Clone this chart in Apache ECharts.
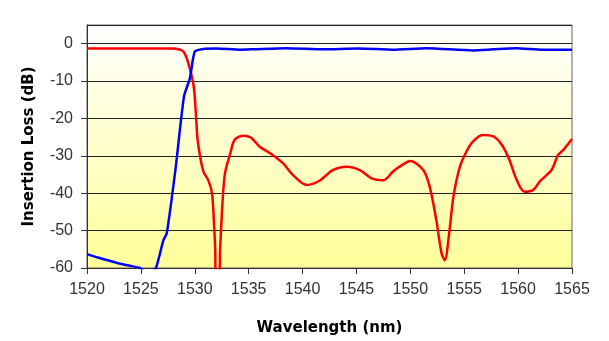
<!DOCTYPE html>
<html>
<head>
<meta charset="utf-8">
<script src="https://cdn.jsdelivr.net/npm/echarts@6/dist/echarts.min.js"></script>
<style>html,body{margin:0;padding:0;background:#fff}#c{width:609px;height:341px}</style>
</head>
<body>
<div id="c"></div>
<script>
var xTicks = [1520, 1525, 1530, 1535, 1540, 1545, 1550, 1555, 1560, 1565];
var yTicks = [-60, -50, -40, -30, -20, -10, 0];

var redWavelength = [1520, 1524, 1528, 1528.5, 1528.95, 1529.4, 1529.9, 1530.1, 1530.25, 1530.5, 1530.8, 1531.25, 1531.6, 1531.8, 1531.9, 1531.95, 1532.25, 1532.35, 1532.55, 1532.8, 1533.3, 1533.7, 1534.5, 1535.2, 1536.0, 1537.0, 1538.2, 1539.1, 1540.4, 1541.6, 1542.8, 1544.1, 1545.3, 1546.4, 1547.5, 1548.4, 1549.0, 1550.0, 1551.2, 1551.8, 1552.4, 1552.9, 1553.2, 1553.6, 1554.0, 1554.6, 1555.2, 1555.8, 1556.7, 1557.7, 1558.5, 1559.2, 1559.8, 1560.6, 1561.4, 1562.0, 1563.1, 1563.7, 1564.2, 1565];
var redLoss = [-1.3, -1.3, -1.3, -1.5, -2.1, -5.2, -11.4, -18.6, -25.3, -30.2, -34.2, -36.5, -40, -49, -55.2, -62, -62, -55.2, -43.6, -34.7, -29.3, -25.7, -24.6, -25.1, -27.5, -29.3, -32.0, -35.1, -37.8, -36.6, -33.8, -32.9, -33.8, -36.0, -36.5, -34.2, -32.9, -31.4, -33.8, -38.3, -47, -56.1, -57.9, -50.8, -40.9, -32.9, -28.9, -26.2, -24.4, -24.8, -27.1, -31.1, -36.0, -39.6, -39.1, -36.9, -33.8, -29.8, -28.4, -25.5];

var blueWavelength = [1520, 1521, 1522, 1523, 1524, 1524.9, 1525.5, 1526.0, 1526.4, 1527.1, 1527.4, 1528.2, 1529.0, 1529.55, 1530.0, 1530.8, 1532, 1534.2, 1535.4, 1538.5, 1541.9, 1545.2, 1548.4, 1551.5, 1555.8, 1557.7, 1559.8, 1562.3, 1565];
var blueLoss = [-56.3, -57.2, -58.0, -58.8, -59.4, -60, -61, -61, -60, -52.5, -50.7, -33.8, -14.1, -9.2, -2.1, -1.4, -1.3, -1.6, -1.5, -1.2, -1.5, -1.3, -1.6, -1.2, -1.8, -1.5, -1.2, -1.6, -1.6];

function zip(a, b) { return a.map(function (v, i) { return [v, b[i]]; }); }

var chart = echarts.init(document.getElementById('c'), null, { renderer: 'canvas' });
chart.setOption({
  animation: false,
  grid: {
    left: 87, right: 37, top: 25, bottom: 73,
    show: true,
    borderColor: '#666',
    borderWidth: 1,
    backgroundColor: {
      type: 'linear', x: 0, y: 0, x2: 0, y2: 1,
      colorStops: [{ offset: 0, color: '#ffffff' }, { offset: 1, color: '#ffff99' }]
    }
  },
  xAxis: {
    type: 'value',
    min: xTicks[0], max: xTicks[xTicks.length - 1], interval: 5,
    name: 'Wavelength (nm)', nameLocation: 'middle', nameGap: 53,
    nameTextStyle: { fontFamily: 'DejaVu Sans', fontWeight: 'bold', fontSize: 15, color: '#000' },
    axisLine: { show: true, onZero: false, lineStyle: { color: '#333', width: 1 } },
    axisTick: { show: true, length: 6, lineStyle: { color: '#333' } },
    axisLabel: { margin: 14, fontFamily: 'Liberation Sans', fontSize: 16, color: '#333',
      formatter: function (v) { return String(v); } },
    splitLine: { show: false }
  },
  yAxis: {
    type: 'value',
    min: -60, max: 5, interval: 10,
    name: 'Insertion Loss (dB)', nameLocation: 'middle', nameGap: 50,
    nameTextStyle: { fontFamily: 'DejaVu Sans', fontWeight: 'bold', fontSize: 15, color: '#000' },
    axisLine: { show: true, lineStyle: { color: '#333', width: 1 } },
    axisTick: { show: true, length: 6, lineStyle: { color: '#333' } },
    axisLabel: { margin: 14, fontFamily: 'Liberation Sans', fontSize: 16, color: '#333', showMaxLabel: false,
      formatter: function (v) { return yTicks.indexOf(v) >= 0 ? String(v) : ''; } },
    splitLine: { show: true, lineStyle: { color: '#222', width: 1 } }
  },
  series: [
    {
      type: 'line', data: zip(redWavelength, redLoss), showSymbol: false, clip: true,
      smooth: 0.3, lineStyle: { color: '#ff0000', width: 2.5 }, z: 2
    },
    {
      type: 'line', data: zip(blueWavelength, blueLoss), showSymbol: false, clip: true,
      smooth: 0.2, lineStyle: { color: '#0000ff', width: 2.5 }, z: 3
    }
  ]
});
</script>
</body>
</html>
